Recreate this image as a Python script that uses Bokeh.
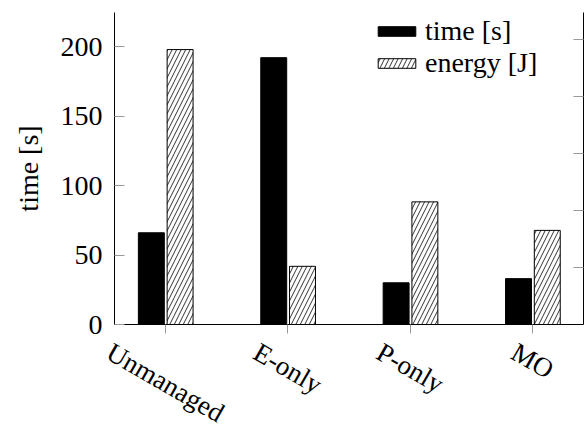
import math
from bokeh.plotting import figure
from bokeh.models import Range1d, LinearAxis, FixedTicker, ColumnDataSource, Legend, LegendItem
from bokeh.core.properties import value
from bokeh.embed import file_html
from bokeh.resources import INLINE

categories = ["Unmanaged", "E-only", "P-only", "MO"]
time_s = [66, 192, 30, 33]
energy = [4.82, 1.02, 2.15, 1.65]   # right axis, unlabeled units
time_ticks = [0, 50, 100, 150, 200]
energy_ticks = [1, 2, 3, 4, 5]

FONT = "Liberation Serif"
FS = 28
FS_X = 27
WIDTH, HEIGHT = 588, 431
# plot box (pixels on the canvas)
BOX_L, BOX_R, BOX_T, BOX_B = 114, 583, 12, 324
T_MAX, E_MAX = 224.5, 5.47

xs = list(range(len(categories)))
x0, x1 = -0.416, len(categories) - 1 + 0.416
ppx = (BOX_R - BOX_L) / (x1 - x0)          # px per category unit
ppy = (BOX_B - BOX_T) / T_MAX              # px per second
ppe = (BOX_B - BOX_T) / E_MAX              # px per energy unit

x_range = Range1d(x0 - BOX_L / ppx, x1 + (WIDTH - BOX_R) / ppx)
y_range = Range1d(-(HEIGHT - BOX_B) / ppy, T_MAX + BOX_T / ppy)
e_range = Range1d(-(HEIGHT - BOX_B) / ppe, E_MAX + BOX_T / ppe)

p = figure(width=WIDTH, height=HEIGHT, output_backend="svg", toolbar_location=None,
           x_range=x_range, y_range=y_range,
           x_axis_location=None, y_axis_location=None, min_border=0)
p.extra_y_ranges = {"energy": e_range}
p.outline_line_color = None
p.xgrid.visible = False
p.ygrid.visible = False

src = ColumnDataSource(dict(x=xs, t=time_s, e=energy,
                            xt=[x - 0.115 for x in xs], xe=[x + 0.12 for x in xs]))

r_time = p.vbar(x="xt", top="t", bottom=0, width=0.212, source=src,
                fill_color="black", line_color="black")
r_en = p.vbar(x="xe", top="e", bottom=0, width=0.212, source=src, y_range_name="energy",
              fill_color="white", line_color="black", line_width=1,
              hatch_pattern="/", hatch_color="black", hatch_scale=9, hatch_weight=0.8)

TICK = "#999999"

# left axis
ly = LinearAxis(ticker=FixedTicker(ticks=time_ticks), axis_label="time [s]",
                fixed_location=x0, bounds=(0, T_MAX))
ly.major_tick_in = 10
ly.major_tick_out = 0
ly.minor_tick_line_color = None
ly.major_tick_line_color = TICK
ly.axis_line_color = "black"
ly.major_label_text_font = FONT
ly.major_label_text_font_size = f"{FS}px"
ly.major_label_text_color = "black"
ly.major_label_standoff = 12
ly.axis_label_text_font = FONT
ly.axis_label_text_font_size = f"{FS}px"
ly.axis_label_text_font_style = "normal"
ly.axis_label_text_color = "black"
ly.axis_label_standoff = 14
p.add_layout(ly, "left")

# right axis (energy, unlabeled)
ry = LinearAxis(y_range_name="energy", ticker=FixedTicker(ticks=energy_ticks),
                major_label_overrides={t: "" for t in energy_ticks},
                fixed_location=x1, bounds=(0, E_MAX))
ry.major_tick_in = 10
ry.major_tick_out = 0
ry.minor_tick_line_color = None
ry.major_tick_line_color = TICK
ry.axis_line_color = "black"
ry.major_label_standoff = 0
p.add_layout(ry, "right")

# bottom axis at y = 0
bx = LinearAxis(ticker=FixedTicker(ticks=xs),
                major_label_overrides={i: "" for i in xs},
                fixed_location=0, bounds=(x0, x1))
bx.major_tick_in = 0
bx.major_tick_out = 9
bx.minor_tick_line_color = None
bx.major_tick_line_color = TICK
bx.axis_line_color = "black"
bx.major_label_standoff = 0
p.add_layout(bx, "below")

# rotated category labels, centred under the ticks
W = {"U": 722, "n": 500, "m": 778, "a": 444, "g": 500, "e": 444, "d": 500, "E": 611,
     "-": 333, "o": 500, "l": 278, "y": 500, "P": 556, "M": 889, "O": 722}
ang = math.radians(30)
top_gap = 16   # px from axis line to highest point of the rotated labels
lab_y = []
for c in categories:
    w = sum(W.get(ch, 500) for ch in c) / 1000 * FS_X
    h = 0.8 * FS_X
    drop = top_gap + (w / 2) * math.sin(ang) + (h / 2) * math.cos(ang)
    lab_y.append(-drop / ppy)
p.text(x=xs, y=lab_y, text=categories, angle=-ang,
       text_align="center", text_baseline="middle",
       text_font=value(FONT), text_font_size=f"{FS_X}px", text_color="black")

legend = Legend(items=[LegendItem(label="time [s]", renderers=[r_time]),
                       LegendItem(label="energy [J]", renderers=[r_en])],
                location=(373, 352))
legend.label_text_font = FONT
legend.label_text_font_size = f"{FS}px"
legend.label_text_color = "black"
legend.glyph_width = 47
legend.glyph_height = 12
legend.label_height = 25
legend.spacing = -7
legend.padding = 0
legend.margin = 0
legend.label_standoff = 5
legend.border_line_color = None
legend.background_fill_alpha = 0
p.add_layout(legend, "center")

open("out.html", "w").write(file_html(p, INLINE))
